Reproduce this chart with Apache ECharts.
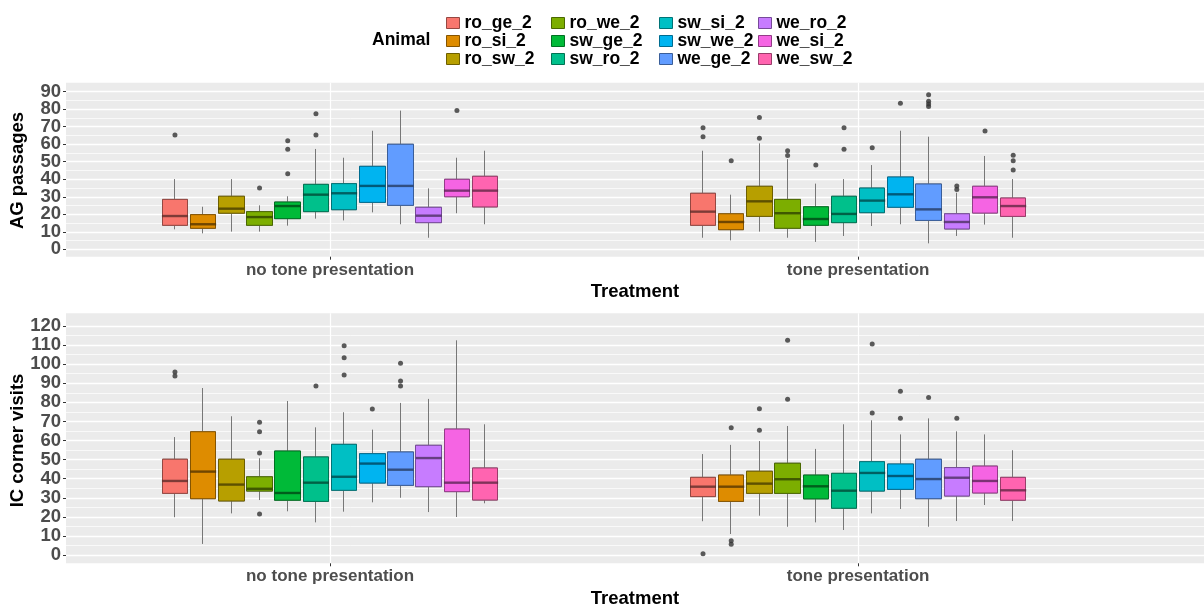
<!DOCTYPE html>
<html>
<head>
<meta charset="utf-8">
<script src="https://cdn.jsdelivr.net/npm/echarts@6/dist/echarts.min.js"></script>
<style>
html, body { margin: 0; padding: 0; background: #fff; }
#show { width: 1204px; height: 608px; }
</style>
</head>
<body>
<div id="show"></div>
<script>
var animals = ['ro_ge_2', 'ro_si_2', 'ro_sw_2', 'ro_we_2', 'sw_ge_2', 'sw_ro_2',
               'sw_si_2', 'sw_we_2', 'we_ge_2', 'we_ro_2', 'we_si_2', 'we_sw_2'];
var treatments = ['no tone presentation', 'tone presentation'];
var agTicks = [0, 10, 20, 30, 40, 50, 60, 70, 80, 90];
var icTicks = [0, 10, 20, 30, 40, 50, 60, 70, 80, 90, 100, 110, 120];

// [lower whisker, Q1, median, Q3, upper whisker] per animal
var agNoTone = [
    [11.4, 13.7, 19.0, 28.5, 40.1], [9.1, 12.0, 14.3, 19.8, 24.3], [10.1, 20.6, 23.2, 30.3, 40.1],
    [10.1, 13.7, 18.4, 21.5, 25.1], [13.5, 17.5, 24.7, 27.0, 30.3], [17.5, 21.5, 31.2, 37.1, 57.3],
    [16.5, 22.6, 32.0, 37.5, 52.3], [21.1, 26.8, 36.2, 47.4, 67.7], [14.3, 25.1, 36.2, 60.0, 79.2],
    [6.6, 15.2, 19.2, 24.0, 34.8], [20.6, 30.0, 33.5, 40.0, 52.3], [14.3, 24.2, 33.5, 41.7, 56.3]
];
var agTone = [
    [6.6, 13.7, 21.5, 32.0, 56.3], [5.1, 11.2, 15.6, 20.3, 31.2], [10.1, 18.8, 27.4, 36.0, 60.5],
    [6.6, 12.0, 20.6, 28.5, 51.5], [4.2, 13.7, 17.3, 24.3, 37.5], [7.6, 15.2, 20.2, 30.3, 40.1],
    [13.3, 20.9, 27.8, 35.0, 48.1], [14.3, 24.0, 31.4, 41.3, 67.7], [3.4, 16.5, 22.8, 37.3, 64.3],
    [7.6, 11.6, 15.6, 20.3, 32.3], [14.1, 20.7, 29.7, 36.0, 53.3], [6.6, 18.8, 24.7, 29.3, 40.1]
];
var icNoTone = [
    [19.8, 32.3, 38.8, 50.2, 61.8], [5.8, 29.5, 43.7, 64.6, 87.5], [21.8, 28.3, 36.9, 50.2, 72.7],
    [28.8, 33.5, 34.7, 41.0, 50.7], [22.9, 28.7, 32.5, 54.5, 80.7], [17.1, 28.1, 37.9, 51.4, 66.9],
    [22.7, 33.9, 41.0, 58.0, 74.8], [27.6, 37.7, 47.9, 53.1, 65.7], [30.0, 36.5, 44.7, 54.0, 79.7],
    [22.5, 35.8, 50.8, 57.5, 81.8], [19.9, 33.2, 37.9, 66.0, 112.5], [27.1, 28.8, 37.9, 45.6, 68.5]
];
var icTone = [
    [17.7, 30.6, 35.8, 40.7, 52.9], [11.0, 28.1, 35.8, 41.9, 57.7], [20.6, 32.3, 37.4, 43.9, 59.7],
    [14.8, 32.3, 39.7, 48.1, 67.6], [17.1, 29.4, 36.0, 41.9, 55.6], [13.1, 24.5, 33.7, 42.8, 68.5],
    [21.8, 33.5, 43.0, 48.9, 70.6], [24.1, 34.4, 41.4, 47.7, 63.2], [14.8, 29.5, 39.8, 50.2, 71.6],
    [17.8, 30.9, 40.5, 45.8, 64.8], [26.2, 32.5, 38.8, 46.6, 63.2], [17.8, 28.7, 33.9, 40.7, 54.9]
];

// outliers: [animal index, value]
var agOutNoTone = [[0, 65.3], [3, 35.0], [4, 62.0], [4, 57.1], [4, 43.2], [5, 77.4], [5, 65.3], [10, 79.2]];
var agOutTone = [[0, 69.4], [0, 64.3], [1, 50.6], [2, 75.2], [2, 63.4], [3, 56.3], [3, 53.5], [4, 48.1],
    [5, 69.4], [5, 57.1], [6, 58.0], [7, 83.4], [8, 88.3], [8, 84.5], [8, 83.0], [8, 81.5],
    [9, 36.2], [9, 34.1], [10, 67.6], [11, 53.7], [11, 50.6], [11, 45.3]];
var icOutNoTone = [[0, 95.9], [0, 93.8], [3, 69.5], [3, 64.6], [3, 53.5], [3, 21.5], [5, 88.6],
    [6, 109.7], [6, 103.4], [6, 94.3], [7, 76.5], [8, 100.5], [8, 91.2], [8, 88.6]];
var icOutTone = [[0, 0.7], [1, 66.7], [1, 7.5], [1, 5.6], [2, 76.7], [2, 65.4], [3, 112.5], [3, 81.6],
    [6, 110.6], [6, 74.4], [7, 85.8], [7, 71.6], [8, 82.5], [9, 71.6]];

var colors = ['#F8766D', '#DE8C00', '#B79F00', '#7CAE00', '#00BA38', '#00C08B',
              '#00BFC4', '#00B4F0', '#619CFF', '#C77CFF', '#F564E3', '#FF64B0'];

function shade(hex, k) {
    var n = parseInt(hex.slice(1), 16);
    var r = Math.round(((n >> 16) & 255) * (1 - k));
    var g = Math.round(((n >> 8) & 255) * (1 - k));
    var b = Math.round((n & 255) * (1 - k));
    return 'rgb(' + r + ',' + g + ',' + b + ')';
}

var font = 'Liberation Sans';
var step = 0.0534;    // dodge distance between boxes (axis units)
var xMin = 0.5, xMax = 2.655;
function xpos(t, i) { return t + 1 + (i - 5.5) * step; }

var panels = [
    { title: 'AG passages', ticks: agTicks, stats: [agNoTone, agTone], outs: [agOutNoTone, agOutTone],
      bgTop: 82.7, bgH: 174, top: 91.7, h: 157.6 },
    { title: 'IC corner visits', ticks: icTicks, stats: [icNoTone, icTone], outs: [icOutNoTone, icOutTone],
      bgTop: 313.3, bgH: 250, top: 326, h: 229 }
];

var grid = [], xAxis = [], yAxis = [], series = [];
var whiskers = [], medians = [];

panels.forEach(function (p, pi) {
    var bg = 2 * pi, inner = 2 * pi + 1;
    var yVal = 3 * pi + 1;
    grid.push({ left: 66, right: 0, top: p.bgTop, height: p.bgH, show: true,
        backgroundColor: '#EBEBEB', borderWidth: 0, containLabel: false, outerBoundsMode: 'none' });
    grid.push({ left: 66, right: 0, top: p.top, height: p.h, show: false,
        containLabel: false, outerBoundsMode: 'none' });

    xAxis.push({
        type: 'value', gridIndex: bg, min: xMin, max: xMax,
        name: 'Treatment', nameLocation: 'middle', nameGap: 26,
        nameTextStyle: { fontFamily: font, fontWeight: 'bold', fontSize: 18.5, color: '#000' },
        axisLine: { show: false },
        axisTick: { show: true, customValues: [1, 2], length: 3, lineStyle: { color: '#333' } },
        axisLabel: { customValues: [1, 2], margin: 5, fontFamily: font, fontWeight: 'bold',
            fontSize: 17, color: '#4D4D4D',
            formatter: function (v) { return treatments[Math.round(v) - 1]; } },
        splitLine: { show: true, lineStyle: { color: '#fff', width: 1.2 } }
    });
    xAxis.push({ type: 'value', gridIndex: inner, min: xMin, max: xMax, show: false });

    yAxis.push({ type: 'value', gridIndex: bg, min: 0, max: 1, show: false });
    // value axis: scale for the marks + grid lines
    yAxis.push({
        type: 'value', gridIndex: inner, position: 'left', min: 0, max: p.ticks[p.ticks.length - 1], interval: 10,
        name: p.title, nameLocation: 'middle', nameRotate: 90, nameGap: 39,
        nameTextStyle: { fontFamily: font, fontWeight: 'bold', fontSize: 18.5, color: '#000' },
        axisLine: { show: false },
        axisTick: { show: false },
        axisLabel: { show: false },
        splitLine: { show: true, lineStyle: { color: '#fff', width: 1.4 } },
        minorTick: { show: false, splitNumber: 2 },
        minorSplitLine: { show: true, lineStyle: { color: '#fff', width: 0.7 } }
    });
    // tick labels (all shown)
    yAxis.push({
        type: 'category', gridIndex: inner, position: 'left', boundaryGap: false,
        data: p.ticks.map(String),
        axisLine: { show: false },
        axisTick: { show: true, interval: 0, length: 3, lineStyle: { color: '#333' } },
        axisLabel: { interval: 0, margin: 5, fontFamily: font, fontWeight: 'bold',
            fontSize: 18.5, color: '#4D4D4D' },
        splitLine: { show: false }
    });

    var medData = [], outData = [];
    animals.forEach(function (a, i) {
        var whiskData = [], boxData = [];
        p.stats.forEach(function (s, t) {
            var v = s[i], x = xpos(t, i);
            whiskData.push([x, v[1], v[3], v[0], v[4]]);
            boxData.push([x, v[1], v[3], v[1], v[3]]);
            medData.push({ value: [x, v[2]], itemStyle: { color: shade(colors[i], 0.62) } });
        });
        series.push({
            type: 'candlestick', name: a, xAxisIndex: inner, yAxisIndex: yVal,
            barWidth: 26, z: 3, data: boxData,
            itemStyle: { color: colors[i], color0: colors[i], borderColor: shade(colors[i], 0.4),
                borderColor0: shade(colors[i], 0.4), borderColorDoji: shade(colors[i], 0.4), borderWidth: 1 }
        });
        whiskers.push({
            type: 'candlestick', xAxisIndex: inner, yAxisIndex: yVal,
            barWidth: 26, z: 2, data: whiskData,
            itemStyle: { color: '#777', color0: '#777', borderColor: '#777',
                borderColor0: '#777', borderColorDoji: '#777', borderWidth: 1 }
        });
    });
    p.outs.forEach(function (o, t) {
        o.forEach(function (d) { outData.push([xpos(t, d[0]), d[1]]); });
    });
    medians.push({
        type: 'scatter', xAxisIndex: inner, yAxisIndex: yVal, z: 4,
        symbol: 'rect', symbolSize: [26, 2.4], data: medData
    });
    medians.push({
        type: 'scatter', xAxisIndex: inner, yAxisIndex: yVal, z: 5,
        symbol: 'circle', symbolSize: 5, data: outData, itemStyle: { color: '#333' }
    });
});

series = series.concat(whiskers, medians);

var legLeft = [446, 551, 659, 758];
var legend = legLeft.map(function (l, c) {
    return {
        orient: 'vertical', left: l, top: 14, padding: 0, itemGap: 0,
        itemWidth: 13, itemHeight: 11, icon: 'rect', selectedMode: false,
        textStyle: { fontFamily: font, fontWeight: 'bold', fontSize: 17.5, color: '#000', lineHeight: 17 },
        data: animals.slice(3 * c, 3 * c + 3).map(function (n, k) {
            var ci = 3 * c + k;
            return { name: n, itemStyle: { color: colors[ci], borderColor: shade(colors[ci], 0.4), borderWidth: 1 } };
        })
    };
});

var myChart = echarts.init(document.getElementById('show'));
myChart.setOption({
    animation: false,
    backgroundColor: '#fff',
    title: { text: 'Animal', left: 372, top: 31, padding: 0,
        textStyle: { fontFamily: font, fontWeight: 'bold', fontSize: 17.5, color: '#000' } },
    legend: legend,
    grid: grid,
    xAxis: xAxis,
    yAxis: yAxis,
    series: series
});
</script>
</body>
</html>
